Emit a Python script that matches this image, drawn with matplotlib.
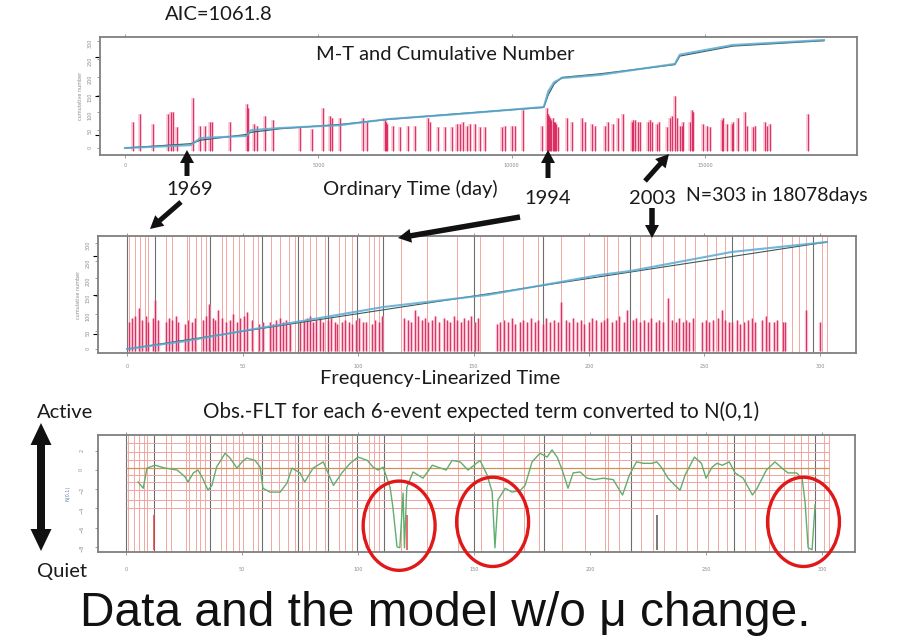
import matplotlib.pyplot as plt
from matplotlib.patches import Ellipse, FancyArrow

W, H = 899, 644

# ---- panel 1: ordinary time (days), N=303 in 18078 days ----
cum_days = [0, 1700, 1950, 3150, 3250, 4000, 5560, 6780, 8590, 10830, 10950,
            11100, 11300, 12280, 14220, 14350, 15720, 18078]
cum_obs = [0, 8, 28, 34, 50, 56, 64, 81, 95, 115, 160, 185, 196, 205, 236,
           262, 289, 303]
cum_model = [0, 12, 22, 38, 44, 54, 66, 80, 96, 114, 150, 180, 198, 208, 234,
             258, 286, 301]

ev_day = [207, 388, 724, 1112, 1190, 1241, 1345, 1758, 1940, 2069,
          2198, 2250, 2715, 3155, 3181, 3336, 3413, 3620, 3827, 4525,
          4836, 5120, 5301, 5353, 5560, 6155, 6258, 6724, 6750, 6775,
          6930, 7111, 7318, 7499, 7835, 7887, 8094, 8275, 8456, 8586,
          8663, 8741, 8844, 8922, 9051, 9180, 9310, 9749, 9827, 10008,
          10085, 10292, 10784, 10913, 10939, 10960, 10991, 11020, 11068, 11090,
          11120, 11150, 11197, 11430, 11559, 11818, 11895, 12076, 12154, 12413,
          12490, 12620, 12749, 12878, 13111, 13137, 13189, 13266, 13318, 13525,
          13576, 13628, 13758, 13809, 14016, 14094, 14145, 14223, 14275, 14352,
          14404, 14430, 14611, 14663, 14688, 14947, 15050, 15128, 15438, 15464,
          15568, 15697, 15723, 15852, 16033, 16085, 16240, 16292, 16550, 16602,
          16680, 17662]
ev_mag = [4.7, 5.1, 4.6, 5.1, 5.2, 5.2, 4.4, 5.9, 4.5, 4.5,
          4.7, 4.7, 4.7, 5.6, 5.4, 4.6, 4.5, 5.0, 4.8, 4.4,
          4.3, 5.4, 5.0, 4.9, 4.9, 4.9, 4.7, 4.8, 4.7, 4.6,
          4.5, 4.4, 4.5, 4.5, 4.9, 4.7, 4.4, 4.4, 4.4, 4.6,
          4.6, 4.7, 4.5, 4.6, 4.6, 4.4, 4.4, 4.4, 4.5, 4.5,
          4.5, 5.3, 4.5, 5.4, 5.1, 5.0, 4.9, 4.8, 4.9, 4.7,
          4.7, 4.6, 4.4, 4.9, 4.7, 4.9, 4.7, 4.6, 4.5, 4.5,
          4.7, 4.6, 4.9, 5.1, 4.7, 4.8, 4.8, 4.7, 4.7, 4.7,
          4.8, 4.7, 4.6, 4.7, 4.4, 4.9, 5.0, 6.0, 4.9, 4.5,
          4.5, 4.7, 4.7, 5.3, 5.2, 4.6, 4.5, 4.4, 4.8, 4.9,
          4.6, 4.6, 4.7, 4.9, 5.2, 4.5, 4.4, 4.5, 4.7, 4.5,
          4.6, 5.1]

# ---- panel 2: frequency-linearized time ----
flt_cum_x = [0, 25, 50, 80, 111, 156, 205, 218, 262, 303]
flt_cum_y = [0, 22, 51, 84, 119, 153, 210, 221, 275, 303]
flt_diag = [0, 303]

flt_pos = [0.8, 2, 3.5, 5, 6.5, 8, 9, 11, 12, 13.5,
           17, 18, 19.5, 21, 22, 25, 26.5, 28, 29.5, 33,
           34, 35.5, 37, 38, 39.5, 41, 43, 44.5, 46, 47.5,
           49, 50.5, 52, 54, 57, 59, 62, 63, 64.5, 66,
           67.5, 69, 70.5, 75, 76.5, 78, 79, 80.5, 82, 83.5,
           85, 87, 88.5, 90, 91, 93, 94.5, 96, 97.5, 99,
           100.5, 102, 103.5, 106, 107.5, 109, 110.5,
           120, 121.5, 123, 124.5, 126, 127.5, 129, 130.5, 132, 133.5,
           135, 137, 138.5, 140, 141.5, 143, 144.5, 146, 147.5, 149,
           150.5, 152,
           160, 161.5, 163, 165, 166.5, 168, 170, 171.5, 173, 175,
           176.5, 178, 180, 181.5, 183, 185, 186.5, 188, 190, 191.5,
           193, 195, 196.5, 198, 200, 201.5, 203, 205, 206.5, 208,
           210, 211.5, 213, 215, 216.5, 219, 220.5, 222, 224, 225.5,
           227, 229, 230.5, 232, 234, 236, 237.5, 239, 240.5, 242,
           243.5, 245, 249, 250.5, 252, 253.5, 256, 257.5, 259, 260.5,
           262, 264, 265.5, 267, 269, 270.5, 272, 275, 276.5, 278,
           280, 281.5, 284, 285, 294, 300]
flt_mag = [4.6, 4.8, 4.9, 5.3, 4.7, 4.9, 4.6, 4.8, 5.7, 4.7,
           4.6, 4.8, 4.7, 4.9, 4.6, 4.5, 4.7, 4.6, 4.8, 4.7,
           4.9, 5.5, 4.8, 4.7, 5.2, 4.8, 4.6, 4.7, 5.0, 4.6,
           4.8, 4.9, 5.1, 4.7, 4.5, 4.6, 4.6, 4.5, 4.7, 4.8,
           4.6, 4.7, 4.5, 4.6, 4.7, 4.8, 4.9, 4.6, 4.7, 4.8,
           4.6, 4.7, 4.8, 4.6, 4.5, 4.6, 4.7, 4.6, 4.5, 4.7,
           4.8, 4.6, 4.6, 4.5, 4.7, 4.6, 4.9,
           4.8, 4.7, 4.6, 5.2, 4.9, 4.7, 4.8, 4.6, 4.7, 4.9,
           4.6, 4.8, 4.7, 4.6, 4.9, 4.7, 4.6, 4.8, 4.7, 4.9,
           4.6, 4.8,
           4.5, 4.6, 4.7, 4.6, 4.8, 4.5, 4.6, 4.7, 4.6, 4.8,
           4.6, 4.7, 4.5, 4.8, 4.6, 4.7, 4.6, 5.6, 4.7, 4.6,
           4.8, 4.6, 4.7, 4.5, 4.6, 4.8, 4.7, 4.6, 4.7, 4.8,
           4.6, 4.7, 4.9, 4.6, 5.2, 4.7, 4.8, 4.6, 4.7, 4.6,
           4.8, 4.6, 4.7, 4.6, 5.8, 4.7, 4.6, 4.8, 4.6, 4.7,
           4.6, 4.8, 4.6, 4.7, 4.6, 4.7, 4.8, 5.2, 4.7, 4.6,
           4.6, 4.7, 4.5, 4.6, 4.7, 4.8, 4.6, 4.7, 4.9, 4.6,
           4.6, 4.7, 4.6, 4.6, 5.2, 4.6]

# year boundaries in linearized time (dark = every few years)
year_dark = [0, 12, 36, 58.4, 74, 87, 99.6, 111, 150, 180, 217.7, 262, 297]
year_light = [1, 3.5, 5.6, 7.8, 9, 17, 19.5, 26, 27, 30, 32, 34, 41, 43, 46,
              48.5, 50.6, 54.5, 56.7, 62.3, 66, 70, 72.7, 76, 79, 82, 85.7,
              91.8, 94.4, 97.4, 104.8, 107, 109, 118.7, 129.7, 142.9, 152.8,
              162.6, 171.4, 178, 188, 197.8, 206.6, 207.8, 212.6, 222, 227,
              232, 237, 241.6, 246, 251, 255, 258.9, 266.7, 271, 277, 283.5,
              287.9, 291, 294, 300.9, 303]

# ---- panel 3: Obs.-FLT per 6-event term converted to N(0,1) ----
obs_x = [5.2, 7.4, 9, 12.5, 16.8, 22, 25.4, 26.7, 29, 31,
         33, 35.3, 37, 39, 42.7, 44.8, 47.8, 50, 52, 55.6,
         57.8, 59, 62, 66.4, 69.4, 71.5, 75, 77, 80.6, 85,
         88, 89.4, 93, 96.6, 100, 104, 106.5, 108.6, 110.8, 113.8,
         115, 116.8, 118, 119.4, 120, 121, 123.7, 128, 132, 138,
         140.5, 144, 147.4, 152.6, 155.6, 157.8, 159, 160.3, 163.4, 166.4,
         170, 172, 175, 178.4, 181.5, 183.6, 185.8, 188, 190.5, 192.7,
         195.7, 198.7, 202, 205.6, 210, 214, 217, 220, 223, 226.7,
         228.8, 231, 233.6, 236.6, 238.8, 241, 245, 248, 250, 252.6,
         254.7, 257, 260, 262.5, 266, 270, 272, 276, 279.7, 282.7,
         285.3, 289, 291.4, 292.7, 294, 295.7, 297]
obs_v = [-1.25, -1.9, 0.2, 0.5, 0.2, 0, -0.7, -1.25, -0.3, 0,
         -0.85, -2.1, -1.6, 0.3, 1.75, 1.25, 0.2, 0.85, 1.25, 1.0,
         0.3, -1.9, -2.3, -2.3, -1.35, 0.2, -0.3, -1.25, 0.2, 0.85,
         -0.85, -1.6, -0.3, 0.7, 1.35, 1.0, 0.3, 0, 0.3, -1.8,
         -3.85, -8.0, -8.1, -2.4, -8.1, -1.8, -0.2, -0.85, 0.5, 0,
         1.0, 0.85, 0, 1.0, -0.5, -2.3, -8.1, -3.1, -1.9, -2.3,
         -2.1, -1.6, 0.85, 1.75, 1.35, 2.1, 1.35, 0, -1.9, -0.3,
         -0.2, -0.85, -1.0, -0.85, -1.0, -2.6, -0.5, 0.85, 0.7, 0.7,
         0.85, 0.2, -0.85, -1.6, -2.1, -0.5, 1.35, 0.7, -0.85, 0.3,
         0.7, 0.5, 0.85, -0.3, -0.85, -2.6, -1.9, 0, 0.85, 0.2,
         -0.3, -0.3, -0.85, -3.4, -8.1, -8.3, -3.6]
grid_levels = [2.8, 1.9, 1.0, 0.2, -0.5, -1.25, -2.1, -3.1, -4.0]
big_x = [12, 121, 229]
big_color = ['#e04040', '#e04040', '#555555']
circled_x = [117.7, 158, 292]
circled_v = [-5.8, -5.4, -5.4]

# ---------------------------------------------------------------
fig = plt.figure(figsize=(W / 100, H / 100), dpi=100)
fig.patch.set_facecolor('white')


def box(l, t, r, b):
    return [l / W, 1 - b / H, (r - l) / W, (b - t) / H]


def fp(x, y):
    return x / W, 1 - y / H


FRAME = '#7f7f7f'
TICK = dict(labelsize=3.5, labelcolor='#8a8a8a', color='#8a8a8a', length=2, width=0.6)
SPIKE_SOFT = '#f4a3bb'
SPIKE = '#d81b55'


def style_frame(ax):
    for s in ax.spines.values():
        s.set_color(FRAME)
        s.set_linewidth(1.3)


# panel 1
ax1 = fig.add_axes(box(100, 37, 857, 155))
ax1.set_xlim(-647, 18931)
ax1.set_ylim(3, 9)
ax1.vlines(ev_day, 3.2, ev_mag, color=SPIKE_SOFT, lw=2.6, alpha=0.6)
ax1.vlines(ev_day, 3.2, ev_mag, color=SPIKE, lw=0.8, alpha=0.85)
ax1.set_xticks([0, 5000, 10000, 15000])
ax1.tick_params(axis='x', top=True, pad=4, **TICK)
ax1.tick_params(axis='y', left=False, labelleft=False)
style_frame(ax1)
ax1c = ax1.twinx()
ax1c.set_ylim(-19.6, 311.4)
ax1c.plot(cum_days, cum_model, color='#3c5a58', lw=0.9)
ax1c.plot(cum_days, cum_obs, color='#5aaad2', lw=1.5, alpha=0.85)
ax1c.yaxis.set_ticks_position('left')
ax1c.yaxis.set_label_position('left')
ax1c.set_yticks([0, 50, 100, 150, 200, 250, 300])
ax1c.tick_params(axis='y', rotation=90, **TICK)
ax1c.set_ylabel('cumulative number', fontsize=3.5, color='#8a8a8a', labelpad=3)
for s in ax1c.spines.values():
    s.set_visible(False)

# panel 2
ax2 = fig.add_axes(box(98, 236, 856, 353))
ax2.set_xlim(-12.6, 315.6)
ax2.set_ylim(3, 9)
ax2.vlines(year_light, 0, 1, transform=ax2.get_xaxis_transform(), color='#f3a8a0', lw=0.7)
ax2.vlines(year_dark, 0, 1, transform=ax2.get_xaxis_transform(), color='#6e6e6e', lw=0.8)
ax2.vlines(flt_pos, 3.1, flt_mag, color=SPIKE_SOFT, lw=2.4, alpha=0.6)
ax2.vlines(flt_pos, 3.1, flt_mag, color=SPIKE, lw=0.8, alpha=0.85)
ax2.set_xticks([0, 50, 100, 150, 200, 250, 300])
ax2.tick_params(axis='x', top=True, pad=6, **TICK)
ax2.tick_params(axis='y', left=False, labelleft=False)
style_frame(ax2)
ax2c = ax2.twinx()
ax2c.set_ylim(-11.3, 320)
ax2c.plot(flt_diag, flt_diag, color='#3c5a58', lw=0.8)
ax2c.plot(flt_cum_x, flt_cum_y, color='#5aaad2', lw=1.5, alpha=0.85)
ax2c.yaxis.set_ticks_position('left')
ax2c.yaxis.set_label_position('left')
ax2c.set_yticks([0, 50, 100, 150, 200, 250, 300])
ax2c.tick_params(axis='y', rotation=90, **TICK)
ax2c.set_ylabel('cumulative number', fontsize=3.5, color='#8a8a8a', labelpad=3)
for s in ax2c.spines.values():
    s.set_visible(False)

# panel 3
ax3 = fig.add_axes(box(98, 435, 855, 552))
ax3.set_xlim(-12.1, 314.2)
ax3.set_ylim(-8.54, 3.65)
ax3.vlines(year_light, 0, 1, transform=ax3.get_xaxis_transform(), color='#f3a8a0', lw=0.7)
ax3.vlines(year_dark, 0, 1, transform=ax3.get_xaxis_transform(), color='#6e6e6e', lw=0.8)
ax3.hlines(grid_levels, 0, 303, color='#eea4a0', lw=0.7)
ax3.hlines([0.2], 0, 303, color='#d49050', lw=0.9)
ax3.vlines(big_x, -8.3, -4.7, color=big_color, lw=1.1)
ax3.plot(obs_x, obs_v, color='#5fae6e', lw=1.0)
for cx, cv in zip(circled_x, circled_v):
    ax3.add_patch(Ellipse((cx, cv), 31, 9.3, fill=False, edgecolor='#e01818',
                          lw=2.4, clip_on=False, zorder=5))
ax3.set_xticks([0, 50, 100, 150, 200, 250, 300])
ax3.set_yticks([2, 0, -2, -4, -6, -8])
ax3.tick_params(axis='x', top=True, pad=9, **TICK)
ax3.tick_params(axis='y', rotation=90, pad=8, **TICK)
ax3.set_ylabel('N(0,1)', fontsize=3.5, color='#6a80b0', labelpad=6)
style_frame(ax3)

# annotation layer in pixel units
ov = fig.add_axes([0, 0, 1, 1], zorder=10)
ov.set_xlim(0, W)
ov.set_ylim(H, 0)
ov.axis('off')
ov.patch.set_alpha(0)


def arrow(x0, y0, x1, y1, w=5, hw=14, hl=13):
    ov.add_patch(FancyArrow(x0, y0, x1 - x0, y1 - y0, width=w, head_width=hw,
                            head_length=hl, length_includes_head=True,
                            color='#111111', lw=0))


arrow(187, 176, 187, 150)
arrow(548, 178, 548, 150)
arrow(645, 181, 669, 154)
arrow(181, 202, 150, 229)
arrow(520, 217, 398, 238, w=5.5)
arrow(652, 208, 652, 238, w=5.5)
arrow(41, 488, 41, 423, w=8, hw=21, hl=22)
arrow(41, 486, 41, 551, w=8, hw=21, hl=22)

sans = ['Lato', 'DejaVu Sans']
T = dict(family=sans, color='#1a1a1a')
FS = 14.5
fig.text(*fp(165, 15), 'AIC=1061.8', fontsize=FS, ha='left', va='center', **T)
fig.text(*fp(445, 55), 'M-T and Cumulative Number', fontsize=FS, ha='center', va='center', **T)
fig.text(*fp(410, 189), 'Ordinary Time (day)', fontsize=FS, ha='center', va='center', **T)
fig.text(*fp(190, 190), '1969', fontsize=FS, ha='center', va='center', **T)
fig.text(*fp(548, 198), '1994', fontsize=FS, ha='center', va='center', **T)
fig.text(*fp(652, 198), '2003', fontsize=FS, ha='center', va='center', **T)
fig.text(*fp(686, 195), 'N=303 in 18078days', fontsize=14, ha='left', va='center', **T)
fig.text(*fp(440, 378), 'Frequency-Linearized Time', fontsize=FS, ha='center', va='center', **T)
fig.text(*fp(37, 413), 'Active', fontsize=FS, ha='left', va='center', **T)
fig.text(*fp(37, 571), 'Quiet', fontsize=FS, ha='left', va='center', **T)
fig.text(*fp(481, 412), 'Obs.-FLT for each 6-event expected term converted to N(0,1)',
         fontsize=14.8, ha='center', va='center', **T)
fig.text(*fp(445, 614), 'Data and the model w/o \u03bc change.', fontsize=34.5,
         ha='center', va='center', family=['Liberation Sans', 'DejaVu Sans'], color='#111111')

fig.savefig('out.png', dpi=100, facecolor='white')
